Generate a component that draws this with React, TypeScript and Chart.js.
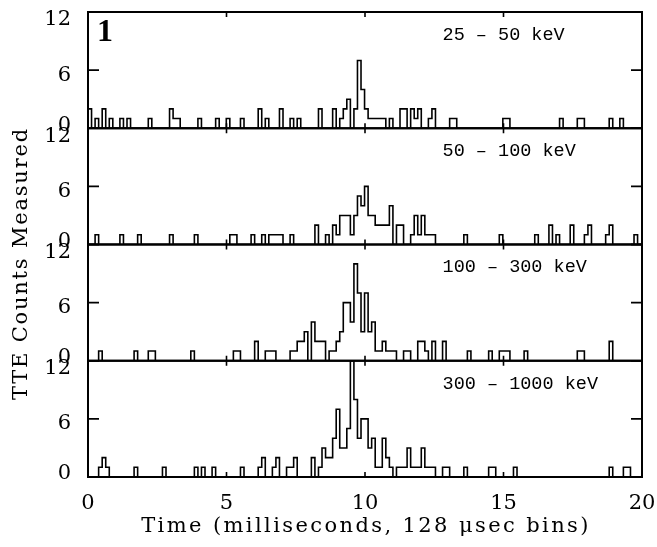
import React, { useEffect, useRef } from "react";
import { Chart, registerables } from "chart.js";

Chart.register(...registerables);

const BIN_WIDTH_MS = 0.128;
const TIME_TICKS = [0, 5, 10, 15, 20];
const COUNT_TICKS = [0, 6, 12];
const X_TITLE = "Time (milliseconds, 128 μsec bins)";
const Y_TITLE = "TTE Counts Measured";
const PANEL_TAG = "1";
const BAND_LABELS = ["25 – 50 keV", "50 – 100 keV", "100 – 300 keV", "300 – 1000 keV"];

// counts per 128 µs bin, bins 0..156
const counts25to50 = [
  0, 2, 0, 1, 0, 2, 0, 1, 0, 0, 1, 0, 1, 0, 0, 0, 0, 0, 1, 0,
  0, 0, 0, 0, 2, 1, 1, 0, 0, 0, 0, 0, 1, 0, 0, 0, 0, 1, 0, 0,
  1, 0, 0, 0, 1, 0, 0, 0, 0, 2, 0, 1, 0, 0, 0, 2, 0, 0, 1, 0,
  1, 0, 0, 0, 0, 0, 2, 0, 0, 0, 2, 0, 1, 2, 3, 0, 2, 7, 4, 2,
  1, 1, 1, 1, 1, 0, 1, 0, 0, 2, 2, 0, 2, 1, 2, 0, 0, 1, 2, 0,
  0, 0, 0, 1, 1, 0, 0, 0, 0, 0, 0, 0, 0, 0, 0, 0, 0, 0, 1, 1,
  0, 0, 0, 0, 0, 0, 0, 0, 0, 0, 0, 0, 0, 0, 1, 0, 0, 0, 0, 1,
  1, 0, 0, 0, 0, 0, 0, 0, 1, 0, 0, 1, 0, 0, 0, 0, 0,
];
const counts50to100 = [
  2, 0, 0, 1, 0, 0, 0, 0, 0, 0, 1, 0, 0, 0, 0, 1, 0, 0, 0, 0,
  0, 0, 0, 0, 1, 0, 0, 0, 0, 0, 0, 1, 0, 0, 0, 0, 0, 0, 0, 0,
  0, 1, 1, 0, 0, 0, 0, 1, 0, 0, 1, 0, 1, 1, 1, 1, 0, 0, 1, 0,
  0, 0, 0, 0, 0, 2, 0, 0, 1, 0, 2, 1, 3, 3, 3, 1, 3, 5, 4, 6,
  3, 3, 2, 2, 2, 2, 4, 0, 2, 2, 0, 0, 1, 3, 1, 3, 1, 1, 1, 0,
  0, 0, 0, 0, 0, 0, 0, 1, 0, 0, 0, 0, 0, 0, 0, 0, 0, 1, 0, 0,
  0, 0, 0, 0, 0, 0, 0, 1, 0, 0, 0, 2, 0, 1, 0, 0, 0, 2, 0, 0,
  0, 1, 2, 0, 0, 0, 0, 1, 2, 0, 0, 0, 0, 0, 0, 1, 0,
];
const counts100to300 = [
  0, 0, 0, 0, 1, 0, 0, 0, 0, 0, 0, 0, 0, 0, 1, 0, 0, 0, 1, 1,
  0, 0, 0, 0, 0, 0, 0, 0, 0, 0, 1, 0, 0, 0, 0, 0, 0, 0, 0, 0,
  0, 0, 1, 1, 0, 0, 0, 0, 2, 0, 0, 1, 1, 1, 0, 0, 0, 0, 1, 1,
  2, 2, 3, 0, 4, 2, 2, 2, 0, 1, 1, 2, 3, 6, 6, 4, 10, 7, 3, 7,
  3, 4, 1, 1, 2, 1, 1, 1, 0, 0, 1, 1, 0, 0, 2, 2, 1, 0, 2, 0,
  0, 2, 0, 0, 0, 0, 0, 0, 1, 0, 0, 0, 0, 0, 1, 0, 0, 1, 1, 1,
  0, 0, 0, 0, 1, 0, 0, 0, 0, 0, 0, 0, 0, 0, 0, 0, 0, 0, 0, 1,
  1, 0, 0, 0, 0, 0, 0, 0, 2, 0, 0, 0, 0, 0, 0, 0, 0,
];
const counts300to1000 = [
  0, 0, 0, 0, 1, 2, 1, 0, 0, 0, 0, 0, 0, 0, 1, 0, 0, 0, 0, 0,
  0, 0, 1, 0, 0, 0, 0, 0, 0, 0, 0, 1, 0, 1, 0, 0, 1, 0, 0, 0,
  0, 0, 0, 0, 1, 0, 0, 0, 0, 1, 2, 0, 0, 1, 2, 0, 0, 1, 1, 2,
  0, 0, 0, 0, 2, 0, 1, 3, 2, 2, 4, 7, 3, 3, 5, 12, 8, 4, 6, 6,
  3, 4, 1, 1, 4, 2, 1, 0, 1, 1, 1, 3, 1, 1, 1, 3, 1, 1, 1, 0,
  0, 1, 1, 0, 0, 0, 0, 1, 0, 0, 0, 0, 0, 0, 1, 1, 0, 0, 0, 0,
  0, 1, 0, 0, 0, 0, 0, 0, 0, 0, 0, 0, 0, 0, 0, 0, 0, 0, 0, 0,
  0, 0, 0, 0, 0, 0, 0, 0, 1, 0, 0, 0, 1, 1, 0, 0, 0,
];

const PANELS = [counts25to50, counts50to100, counts100to300, counts300to1000];

const SERIF = '"DejaVu Serif", serif';

function toSteps(counts: number[]) {
  const pts = counts.map((c, i) => ({ x: i * BIN_WIDTH_MS, y: c }));
  pts.push({ x: counts.length * BIN_WIDTH_MS, y: counts[counts.length - 1] });
  return pts;
}

// Labels at the panel edges are nudged into their panel, as in the original plot:
// a blank second/first line shifts the "0"/"12" text up/down by half a line.
function countLabel(v: number) {
  if (v === 0) return ["0", ""];
  if (v === 12) return ["", "12"];
  return String(v);
}
function countLineHeight(v: number) {
  if (v === 0) return "16px";
  if (v === 12) return "6px";
  return 1.2;
}

export default function App() {
  const ref = useRef<HTMLCanvasElement | null>(null);

  useEffect(() => {
    if (!ref.current) return;

    const scales: any = {
      x: {
        type: "linear",
        position: "bottom",
        min: 0,
        max: 20,
        afterBuildTicks: (s: any) => {
          s.ticks = TIME_TICKS.map((v) => ({ value: v }));
        },
        afterFit: (s: any) => {
          s.height = 70;
          s.paddingLeft = 0;
          s.paddingRight = 0;
        },
        ticks: {
          color: "#000",
          font: { family: SERIF, size: 21 },
          padding: 6,
          maxRotation: 0,
          autoSkip: false,
        },
        grid: { display: false },
        border: { display: false },
        title: { display: false },
      },
    };
    // defined bottom panel first: the last stacked left axis ends up on top
    for (let p = PANELS.length - 1; p >= 0; p--) {
      scales["y" + p] = {
        type: "linear",
        position: "left",
        stack: "panels",
        stackWeight: 1,
        offset: false,
        min: 0,
        max: 12,
        afterBuildTicks: (s: any) => {
          s.ticks = COUNT_TICKS.map((v) => ({ value: v }));
        },
        afterFit: (s: any) => {
          s.width = 76;
          s.paddingTop = 0;
          s.paddingBottom = 0;
        },
        ticks: {
          color: "#000",
          font: (c: any) => ({
            family: SERIF,
            size: 21,
            lineHeight: countLineHeight(c.tick ? c.tick.value : 6),
          }),
          callback: (v: number) => countLabel(v),
          labelOffset: 5,
          padding: 9,
          autoSkip: false,
        },
        grid: { display: false },
        border: { display: false },
      };
    }

    const decor = {
      id: "decor",
      afterDatasetsDraw(chart: any) {
        const ctx = chart.ctx;
        const xs = chart.scales.x;
        const { left, right, top, bottom } = chart.chartArea;
        ctx.save();
        ctx.strokeStyle = "#000";
        ctx.fillStyle = "#000";
        for (let p = 0; p < PANELS.length; p++) {
          const ys = chart.scales["y" + p];
          ctx.lineWidth = 2;
          ctx.strokeRect(left, ys.top, right - left, ys.bottom - ys.top);
          ctx.lineWidth = 1.6;
          ctx.beginPath();
          COUNT_TICKS.forEach((v) => {
            const y = ys.getPixelForValue(v);
            ctx.moveTo(left, y);
            ctx.lineTo(left + 11, y);
            ctx.moveTo(right, y);
            ctx.lineTo(right - 11, y);
          });
          TIME_TICKS.forEach((t) => {
            const x = xs.getPixelForValue(t);
            ctx.moveTo(x, ys.top);
            ctx.lineTo(x, ys.top + 5);
            ctx.moveTo(x, ys.bottom);
            ctx.lineTo(x, ys.bottom - 5);
          });
          ctx.stroke();

          ctx.font = '18.5px "Liberation Mono", monospace';
          ctx.textAlign = "left";
          ctx.textBaseline = "middle";
          ctx.fillText(BAND_LABELS[p], xs.getPixelForValue(12.8), ys.top + 23);
        }
        const first = chart.scales["y0"];
        ctx.font = 'bold 32px "Liberation Serif", serif';
        ctx.textAlign = "left";
        ctx.textBaseline = "middle";
        ctx.fillText(PANEL_TAG, left + 9, first.top + 21);

        // axis titles
        ctx.font = `21px ${SERIF}`;
        ctx.textAlign = "center";
        ctx.textBaseline = "middle";
        (ctx as any).letterSpacing = "2.4px";
        ctx.fillText(X_TITLE, (left + right) / 2 + 1, bottom + 50);

        ctx.save();
        ctx.translate(22, (top + bottom) / 2 + 19);
        ctx.rotate(-Math.PI / 2);
        (ctx as any).letterSpacing = "1.8px";
        ctx.fillText(Y_TITLE, 0, 0);
        ctx.restore();
        (ctx as any).letterSpacing = "0px";
        ctx.restore();
      },
    };

    const chart = new Chart(ref.current, {
      type: "line",
      data: {
        datasets: PANELS.map((counts, p) => ({
          label: BAND_LABELS[p],
          data: toSteps(counts),
          yAxisID: "y" + p,
          stepped: "after" as const,
          borderColor: "#000",
          borderWidth: 1.6,
          pointRadius: 0,
          fill: false,
        })),
      },
      options: {
        animation: false,
        responsive: false,
        devicePixelRatio: 1,
        parsing: false as any,
        layout: { padding: { left: 12, right: 15, top: 12, bottom: 0 } },
        plugins: {
          legend: { display: false },
          tooltip: { enabled: false },
        },
        scales,
      },
      plugins: [decor],
    });
    return () => chart.destroy();
  }, []);

  return (
    <div style={{ position: "absolute", left: 0, top: 0, width: 657, height: 547, background: "#fff" }}>
      <canvas ref={ref} width={657} height={547} />
    </div>
  );
}
